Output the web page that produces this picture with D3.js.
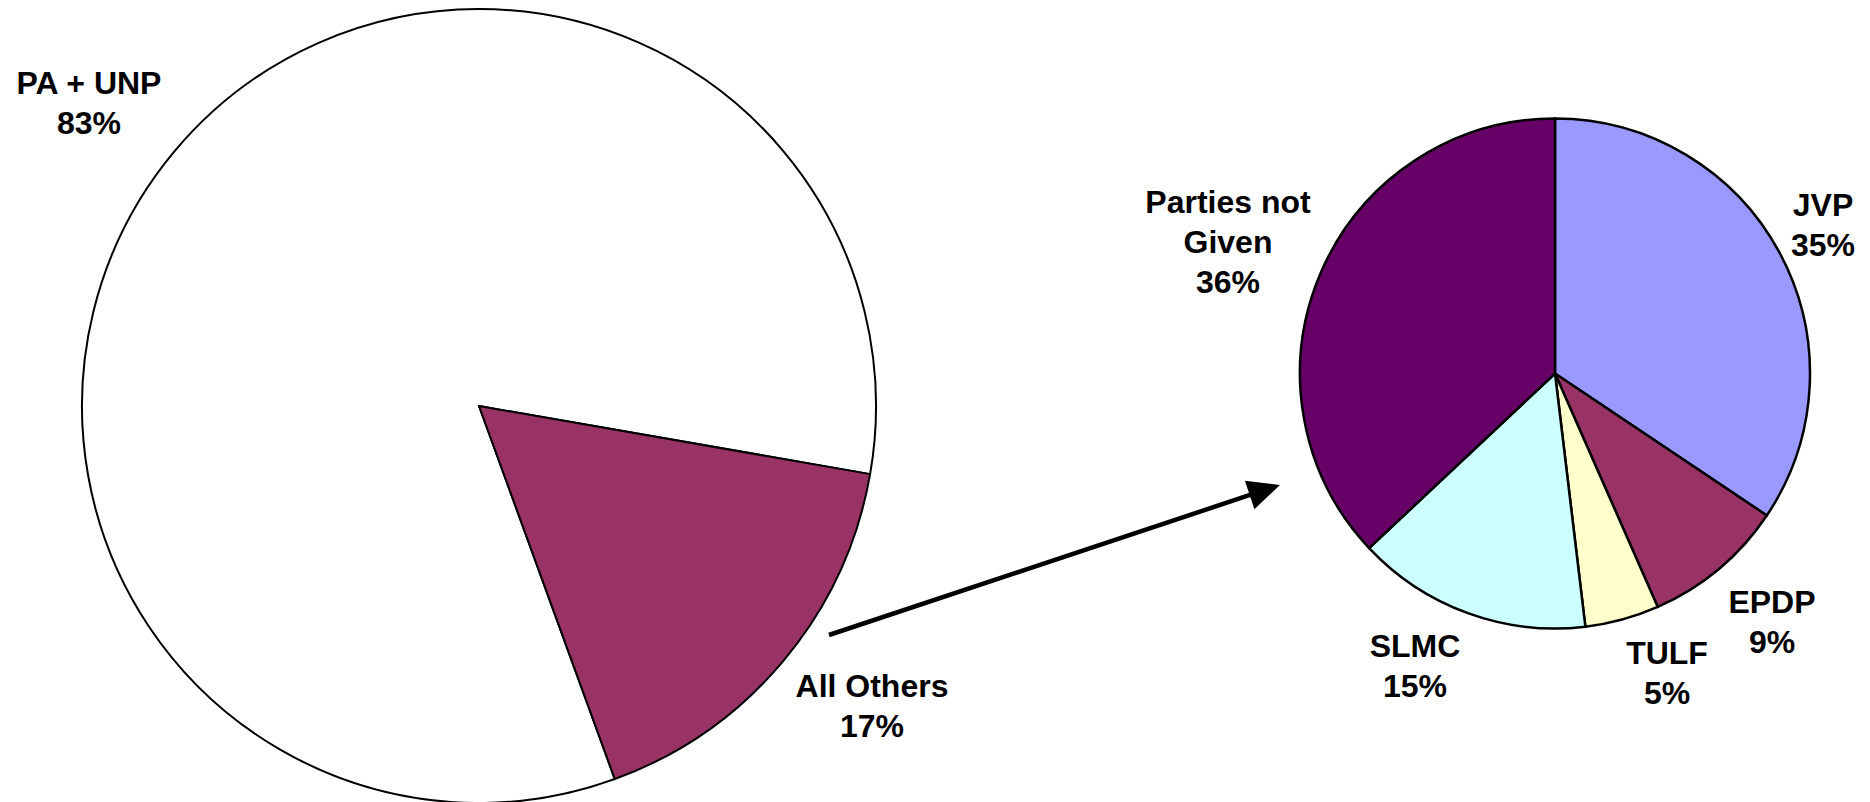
<!DOCTYPE html>
<html><head><meta charset="utf-8">
<script src="https://cdn.jsdelivr.net/npm/d3@7"></script>
<style>body{margin:0;background:#fff}svg{display:block}</style>
</head><body><svg id="chart" width="1870" height="802"></svg>
<script>
// ---- data ----
const mainCategories = ["PA + UNP", "All Others"];
const mainValues = [83.3, 16.7];
const mainLabels = ["83%", "17%"];
const detailCategories = ["JVP", "EPDP", "TULF", "SLMC", "Parties not Given"];
const detailValues = [34.4, 9.0, 4.7, 14.9, 37.0];
const detailLabels = ["35%", "9%", "5%", "15%", "36%"];

// ---- styles / layout ----
const mainColors = ["#FFFFFF", "#993366"];
const detailColors = ["#9999FF", "#993366", "#FFFFCC", "#CCFFFF", "#660066"];
const mainGeom = {cx: 479, cy: 406, r: 397, start: 160, stroke: 2};
const detailGeom = {cx: 1555, cy: 373.5, r: 255, start: 0, stroke: 2.5};
const labelLayout = {
  "PA + UNP": {x: 89, y: 94, lines: ["PA + UNP"]},
  "All Others": {x: 872, y: 697, lines: ["All Others"]},
  "JVP": {x: 1823, y: 216, lines: ["JVP"]},
  "EPDP": {x: 1772, y: 613, lines: ["EPDP"]},
  "TULF": {x: 1667, y: 664, lines: ["TULF"]},
  "SLMC": {x: 1415, y: 657, lines: ["SLMC"]},
  "Parties not Given": {x: 1228, y: 213, lines: ["Parties not", "Given"]}
};
const fontSize = 32;
const lineGap = 40;
const arrow = {x1: 829, y1: 635, x2: 1280, y2: 485, head: 32, half: 15};

const svg = d3.select("#chart");
svg.append("rect").attr("width", 1870).attr("height", 802).attr("fill", "#fff");

function drawPie(cats, vals, colors, g0) {
  const rad = Math.PI / 180;
  const pie = d3.pie().sort(null).value(d => d.v)
    .startAngle(g0.start * rad).endAngle((g0.start + 360) * rad);
  const arc = d3.arc().innerRadius(0).outerRadius(g0.r);
  const data = cats.map((c, i) => ({c, v: vals[i], col: colors[i]}));
  const g = svg.append("g").attr("transform", `translate(${g0.cx},${g0.cy})`);
  g.selectAll("path").data(pie(data)).join("path")
    .attr("d", arc)
    .attr("fill", d => d.data.col)
    .attr("stroke", "#000")
    .attr("stroke-width", g0.stroke)
    .attr("stroke-linejoin", "round");
}

function drawLabels(cats, labels) {
  cats.forEach((c, i) => {
    const L = labelLayout[c];
    const t = svg.append("text")
      .attr("x", L.x).attr("y", L.y)
      .attr("text-anchor", "middle")
      .attr("font-family", "'Liberation Sans', Arial, sans-serif")
      .attr("font-weight", "bold")
      .attr("font-size", fontSize)
      .attr("fill", "#000");
    const lines = L.lines.concat([labels[i]]);
    lines.forEach((ln, k) => {
      t.append("tspan").attr("x", L.x).attr("y", L.y + k * lineGap).text(ln);
    });
  });
}

drawPie(mainCategories, mainValues, mainColors, mainGeom);
drawPie(detailCategories, detailValues, detailColors, detailGeom);
drawLabels(mainCategories, mainLabels);
drawLabels(detailCategories, detailLabels);

// arrow
(function () {
  const dx = arrow.x2 - arrow.x1, dy = arrow.y2 - arrow.y1;
  const len = Math.hypot(dx, dy);
  const ux = dx / len, uy = dy / len;
  const bx = arrow.x2 - ux * arrow.head, by = arrow.y2 - uy * arrow.head;
  svg.append("line")
    .attr("x1", arrow.x1).attr("y1", arrow.y1)
    .attr("x2", bx + ux * 2).attr("y2", by + uy * 2)
    .attr("stroke", "#000").attr("stroke-width", 4.5);
  const px = -uy, py = ux;
  svg.append("polygon")
    .attr("points", [
      [arrow.x2, arrow.y2],
      [bx + px * arrow.half, by + py * arrow.half],
      [bx - px * arrow.half, by - py * arrow.half]
    ].map(p => p.join(",")).join(" "))
    .attr("fill", "#000");
})();
</script>
</body></html>
